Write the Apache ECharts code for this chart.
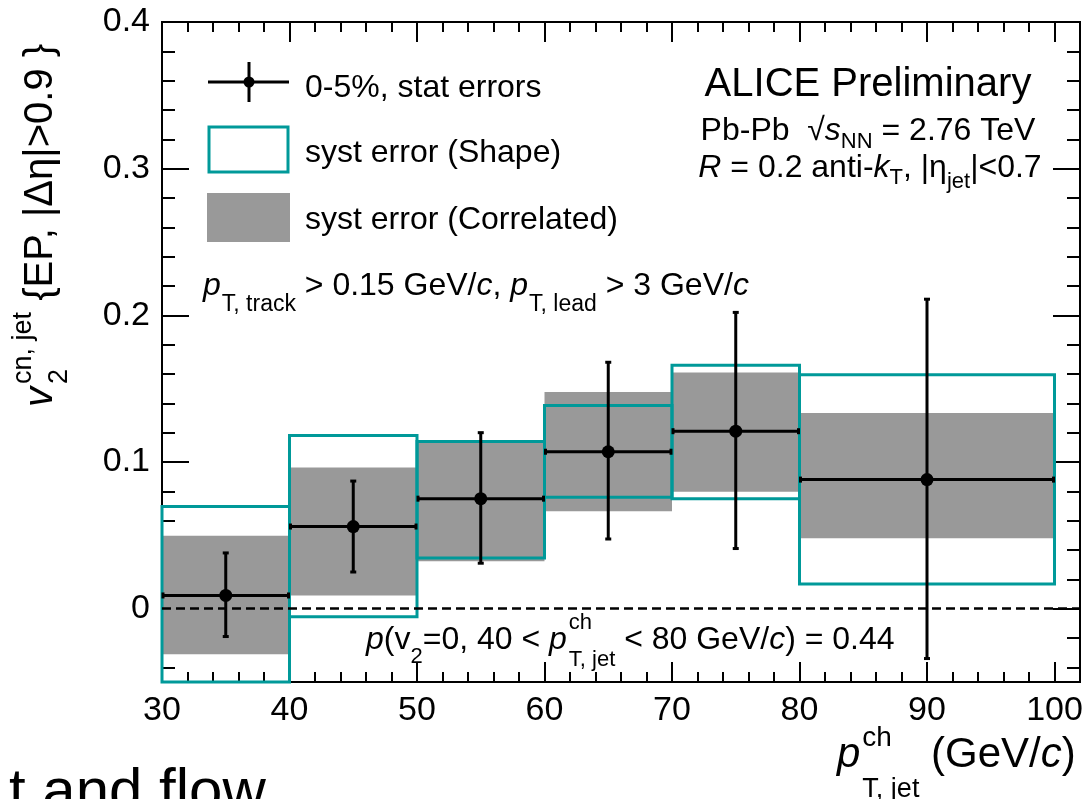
<!DOCTYPE html>
<html><head><meta charset="utf-8">
<script src="https://cdn.jsdelivr.net/npm/echarts@6/dist/echarts.min.js"></script>
<style>html,body{margin:0;padding:0;background:#fff}#c{width:1091px;height:799px}</style>
</head><body><div id="c"></div><script>
// ---- data ----
const binLow    = [30, 40, 50, 60, 70, 80];
const binHigh   = [40, 50, 60, 70, 80, 100];
const binCenter = [35, 45, 55, 65, 75, 90];
const v2Value   = [0.009, 0.056, 0.075, 0.107, 0.121, 0.088];
const statLow   = [-0.019, 0.025, 0.031, 0.0475, 0.041, -0.034];
const statHigh  = [0.038, 0.087, 0.120, 0.168, 0.202, 0.211];
const shapeLow  = [-0.05, -0.0055, 0.0345, 0.076, 0.075, 0.0168];
const shapeHigh = [0.0697, 0.118, 0.114, 0.1386, 0.1659, 0.1595];
const corrLow   = [-0.031, 0.0089, 0.0323, 0.0665, 0.0798, 0.048];
const corrHigh  = [0.0498, 0.0963, 0.1134, 0.1477, 0.161, 0.1334];
const xTickLabels = [30, 40, 50, 60, 70, 80, 90, 100];
const yTickLabels = [0, 0.1, 0.2, 0.3, 0.4];
const xMinorTicks = []; for (let v = 32; v < 100; v += 2) if (v % 10) xMinorTicks.push(v);
const yMinorTicks = []; for (let k = -2; k < 20; k++) if (k % 5) yMinorTicks.push(+(k * 0.02).toFixed(2));

const TEAL = '#009999', GREY = '#999999';
const FF = '"Liberation Sans", Arial, Helvetica, sans-serif';
const mctx = document.createElement('canvas').getContext('2d');
function tw(t, s, it) { mctx.font = (it ? 'italic ' : '') + s + 'px ' + FF; return mctx.measureText(t).width; }
function richText(parts, x0, y0, align) {
  const items = []; let x = 0;
  parts.forEach(p => {
    x += (p.kern || 0);
    if (p.stack) {
      let mw = 0;
      p.stack.forEach(q => { items.push(Object.assign({}, q, {x: x})); mw = Math.max(mw, tw(q.t, q.s, q.i)); });
      x += mw;
    } else { items.push(Object.assign({}, p, {x: x})); x += tw(p.t, p.s, p.i); }
  });
  const off = align === 'center' ? -x / 2 : (align === 'right' ? -x : 0);
  return items.map(it => ({
    type: 'text', x: x0 + it.x + off, y: y0 + (it.dy || 0), silent: true, z: 100,
    style: { text: it.t, fontSize: it.s, fontFamily: FF, fontStyle: it.i ? 'italic' : 'normal',
             fill: '#000', align: 'left', verticalAlign: 'middle' }
  }));
}

const MIN_X = 30, MAX_X = 102, MIN_Y = -0.05, MAX_Y = 0.4;
function xAx(pos, major, show) {
  return {
    type: 'value', position: pos, min: MIN_X, max: MAX_X,
    axisLine: { show: true, onZero: false, lineStyle: { color: '#000', width: 2 } },
    axisTick: { show: true, inside: true, length: major ? 20 : 10, customValues: major ? xTickLabels : xMinorTicks,
                lineStyle: { color: '#000', width: 2 } },
    axisLabel: { show: show, customValues: xTickLabels, margin: 12, color: '#000', fontSize: 34, fontFamily: FF },
    splitLine: { show: false }, minorTick: { show: false }
  };
}
function yAx(pos, major, show) {
  return {
    type: 'value', position: pos, min: MIN_Y, max: MAX_Y,
    axisLine: { show: true, onZero: false, lineStyle: { color: '#000', width: 2 } },
    axisTick: { show: true, inside: true, length: major ? 27 : 13, customValues: major ? yTickLabels : yMinorTicks,
                lineStyle: { color: '#000', width: 2 } },
    axisLabel: { show: show, customValues: yTickLabels, margin: 12, color: '#000', fontSize: 34, fontFamily: FF,
                 formatter: v => String(+(+v).toFixed(2)) },
    splitLine: { show: false }, minorTick: { show: false }
  };
}

function clipTo(rect, cs) {
  return echarts.graphic.clipRectByRect(rect, { x: cs.x, y: cs.y, width: cs.width, height: cs.height });
}
function boxItem(fill) {
  return function (params, api) {
    const p1 = api.coord([api.value(0), api.value(3)]);
    const p2 = api.coord([api.value(1), api.value(2)]);
    const r = clipTo({ x: p1[0], y: p2[1], width: p2[0] - p1[0], height: p1[1] - p2[1] }, params.coordSys);
    if (!r) return null;
    return fill ? { type: 'rect', shape: r, style: { fill: GREY } }
                : { type: 'rect', shape: r, style: { fill: 'none', stroke: TEAL, lineWidth: 3 } };
  };
}
function errItem(params, api) {
  const xc = api.value(0), y = api.value(1), xl = api.value(2), xh = api.value(3), el = api.value(4), eh = api.value(5);
  const c = api.coord([xc, y]), l = api.coord([xl, y]), r = api.coord([xh, y]);
  const cs = params.coordSys;
  const cl = v => Math.max(cs.y, Math.min(cs.y + cs.height, v));
  const b = api.coord([xc, el]), t = api.coord([xc, eh]);
  const ls = { stroke: '#000', lineWidth: 3 };
  const cap = 3;
  const ch = [
    { type: 'line', shape: { x1: l[0], y1: l[1], x2: r[0], y2: r[1] }, style: ls },
    { type: 'line', shape: { x1: l[0] + 1, y1: l[1] - cap, x2: l[0] + 1, y2: l[1] + cap }, style: ls },
    { type: 'line', shape: { x1: r[0] - 1, y1: r[1] - cap, x2: r[0] - 1, y2: r[1] + cap }, style: ls },
    { type: 'line', shape: { x1: b[0], y1: cl(b[1]), x2: t[0], y2: cl(t[1]) }, style: ls }
  ];
  [b, t].forEach(p => { if (p[1] >= cs.y && p[1] <= cs.y + cs.height)
    ch.push({ type: 'line', shape: { x1: p[0] - cap, y1: p[1], x2: p[0] + cap, y2: p[1] }, style: ls }); });
  ch.push({ type: 'circle', shape: { cx: c[0], cy: c[1], r: 6.5 }, style: { fill: '#000' } });
  return { type: 'group', children: ch };
}

const boxData = (lo, hi) => binLow.map((_, i) => [binLow[i], binHigh[i], hi[i], lo[i]]);
const errData = binCenter.map((x, i) => [x, v2Value[i], binLow[i], binHigh[i], statLow[i], statHigh[i]]);

// ---- texts ----
const S = 32, s = 23;
const graphics = [];
// legend
graphics.push({ type: 'line', shape: { x1: 208, y1: 82, x2: 289, y2: 82 }, style: { stroke: '#000', lineWidth: 3 }, z: 100 });
graphics.push({ type: 'line', shape: { x1: 249, y1: 62, x2: 249, y2: 102 }, style: { stroke: '#000', lineWidth: 3 }, z: 100 });
graphics.push({ type: 'circle', shape: { cx: 249, cy: 82, r: 5.5 }, style: { fill: '#000' }, z: 100 });
graphics.push({ type: 'rect', shape: { x: 209, y: 127, width: 79, height: 45 }, style: { fill: '#fff', stroke: TEAL, lineWidth: 3 }, z: 100 });
graphics.push({ type: 'rect', shape: { x: 207, y: 193, width: 83, height: 49 }, style: { fill: GREY }, z: 100 });
graphics.push(...richText([{ t: '0-5%, stat errors', s: S }], 305, 88));
graphics.push(...richText([{ t: 'syst error (Shape)', s: S }], 305, 153));
graphics.push(...richText([{ t: 'syst error (Correlated)', s: S }], 305, 220));
graphics.push(...richText([
  { t: 'p', s: S, i: true }, { t: 'T, track', s: s, dy: 19, kern: 1 },
  { t: ' > 0.15 GeV/', s: S }, { t: 'c', s: S, i: true }, { t: ', ', s: S },
  { t: 'p', s: S, i: true }, { t: 'T, lead', s: s, dy: 19, kern: 1 },
  { t: ' > 3 GeV/', s: S }, { t: 'c', s: S, i: true }
], 203, 286));
// ALICE block
graphics.push(...richText([{ t: 'ALICE Preliminary', s: 40 }], 868, 85, 'center'));
graphics.push(...richText([
  { t: 'Pb-Pb  ', s: S }, { t: '√', s: S }, { t: 's', s: S, i: true }, { t: 'NN', s: 22, dy: 11 },
  { t: ' = 2.76 TeV', s: S }
], 868, 131, 'center'));
graphics.push(...richText([
  { t: 'R', s: S, i: true }, { t: ' = 0.2 anti-', s: S }, { t: 'k', s: S, i: true }, { t: 'T', s: 22, dy: 10 },
  { t: ', |η', s: S }, { t: 'jet', s: 22, dy: 14 }, { t: '|<0.7', s: S }
], 870, 168, 'center'));
// p-value
graphics.push(...richText([
  { t: 'p', s: S, i: true }, { t: '(v', s: S }, { t: '2', s: 22, dy: 17 }, { t: '=0, 40 < ', s: S },
  { t: 'p', s: S, i: true }, { stack: [{ t: 'ch', s: 22, dy: -17 }, { t: 'T, jet', s: 22, dy: 20 }], kern: 2 },
  { t: ' < 80 GeV/', s: S }, { t: 'c', s: S, i: true }, { t: ') = 0.44', s: S }
], 366, 640));
// x title
graphics.push(...richText([
  { t: 'p', s: 42, i: true }, { stack: [{ t: 'ch', s: 28, dy: -17 }, { t: 'T, jet', s: 27, dy: 35 }], kern: 2 },
  { t: ' (GeV/', s: 42 }, { t: 'c', s: 42, i: true }, { t: ')', s: 42 }
], 837, 755));
// y title (rotated)
graphics.push({
  type: 'group', x: 41, y: 407, rotation: Math.PI / 2, z: 100,
  children: richText([
    { t: 'v', s: 40, i: true }, { stack: [{ t: 'cn, jet', s: 27, dy: -17 }, { t: '2', s: 27, dy: 19 }], kern: 3 },
    { t: ' {EP, |Δη|>0.9 }', s: 40 }
  ], 0, 0)
});
// slide text cut at the bottom
graphics.push(...richText([{ t: 't and flow', s: 60 }], 9, 793));

const chart = echarts.init(document.getElementById('c'), null, { renderer: 'canvas' });
chart.setOption({
  animation: false,
  backgroundColor: '#fff',
  grid: { left: 162, right: 11, top: 22, bottom: 117, containLabel: false },
  xAxis: [xAx('bottom', true, true), xAx('bottom', false, false), xAx('top', true, false), xAx('top', false, false)],
  yAxis: [yAx('left', true, true), yAx('left', false, false), yAx('right', true, false), yAx('right', false, false)],
  series: [
    { type: 'custom', name: 'syst error (Correlated)', renderItem: boxItem(true), data: boxData(corrLow, corrHigh), z: 1, silent: true },
    { type: 'custom', name: 'syst error (Shape)', renderItem: boxItem(false), data: boxData(shapeLow, shapeHigh), z: 2, silent: true },
    { type: 'line', data: [], z: 3, silent: true,
      markLine: { silent: true, symbol: ['none', 'none'], label: { show: false },
                  lineStyle: { color: '#000', width: 2.5, type: [9, 5] }, data: [{ yAxis: 0 }] } },
    { type: 'custom', name: '0-5%, stat errors', renderItem: errItem, data: errData, z: 4, silent: true }
  ],
  graphic: graphics
});
</script></body></html>
